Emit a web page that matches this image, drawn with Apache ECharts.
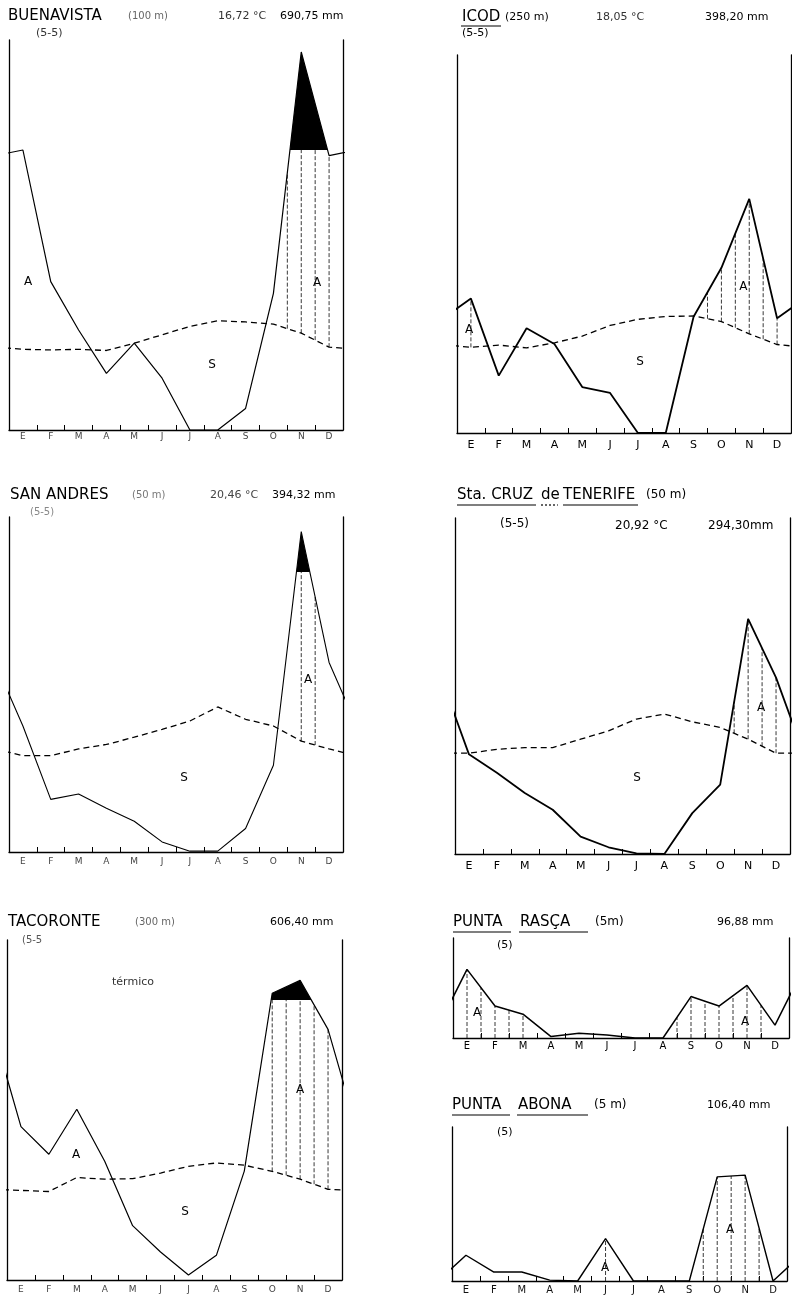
<!DOCTYPE html>
<html><head><meta charset="utf-8">
<script src="https://cdn.jsdelivr.net/npm/echarts@6/dist/echarts.min.js"></script>
<style>html,body{margin:0;padding:0;background:#fff}#c{width:792px;height:1303px}</style>
</head><body><div id="c"></div>
<script>
// ---- data (monthly, E..D) ----
const months = ['E','F','M','A','M','J','J','A','S','O','N','D'];
const buenavistaPrecip = [100, 53, 35.7, 20.2, 31, 18.5, 0, 0, 7.7, 48.8, 275, 98];
const buenavistaTemp   = [14.4, 14.3, 14.4, 14.2, 15.5, 17.0, 18.5, 19.5, 19.3, 18.9, 17.3, 14.8];
const icodPrecip = [48, 20.5, 37.4, 31.8, 16.4, 14.3, 0, 0, 41.5, 59, 83.6, 41];
const icodTemp   = [15.3, 15.7, 15.2, 16.1, 17.3, 19.2, 20.3, 20.8, 20.9, 19.9, 17.7, 15.8];
const sanAndresPrecip = [45, 18.8, 20.7, 15.6, 11, 3.6, 0.3, 0.3, 8.4, 31, 172, 67.7];
const sanAndresTemp   = [17.2, 17.2, 18.4, 19.2, 20.5, 21.9, 23.4, 25.9, 23.7, 22.5, 19.8, 18.4];
const staCruzPrecip = [35.6, 29, 21.8, 15.8, 6.2, 2.4, 0.2, 0, 14.6, 24.8, 84, 63];
const staCruzTemp   = [18.0, 18.7, 19.0, 19.0, 20.5, 22.0, 24.1, 25.0, 23.6, 22.6, 20.5, 18.0];
const tacorontePrecip = [54.8, 44.9, 61, 42.4, 19.4, 10, 1.8, 8.8, 38.9, 112, 135, 89.5];
const tacoronteTemp   = [16.0, 15.8, 18.3, 18.0, 18.1, 19.1, 20.3, 20.9, 20.5, 19.4, 18.0, 16.2];
const puntaRascaPrecip = [24.5, 11.4, 8.5, 0.5, 1.7, 1.1, 0, 0, 14.8, 11.4, 18.8, 4.6];
const puntaAbonaPrecip = [9.2, 3.2, 3.2, 0.3, 0, 15.1, 0, 0, 0, 37.2, 37.8, 0];

// ---- layout / style (kept apart from the data) ----
const FONT = "'DejaVu Sans', 'Liberation Sans', sans-serif";
const PX_PER_MM = 2.8;
const panels = [
  {p: buenavistaPrecip, t: buenavistaTemp, left: 9,   top: 40,   width: 334, height: 390, lm: 2, ls: 9,  lc: '#444', lw: 1.2, hatch: 1,  hw: [[9.9, 11.6]]},
  {p: icodPrecip,       t: icodTemp,       left: 457, top: 55,   width: 334, height: 378, lm: 7, ls: 11, lc: '#000', lw: 1.8, hatch: 1,  hw: [[0.4, 0.6], [8.9, 11.6]]},
  {p: sanAndresPrecip,  t: sanAndresTemp,  left: 9,   top: 517,  width: 334, height: 335, lm: 5, ls: 9,  lc: '#444', lw: 1.1, hatch: 1,  hw: [[10.4, 11.1]]},
  {p: staCruzPrecip,    t: staCruzTemp,    left: 455, top: 518,  width: 335, height: 336, lm: 7, ls: 11, lc: '#000', lw: 1.8, hatch: 1,  hw: [[9.9, 12]]},
  {p: tacorontePrecip,  t: tacoronteTemp,  left: 7,   top: 940,  width: 335, height: 340, lm: 5, ls: 9,  lc: '#444', lw: 1.2, hatch: 1,  hw: [[9.4, 11.6]]},
  {p: puntaRascaPrecip, t: null,           left: 453, top: 938,  width: 336, height: 100, lm: 3, ls: 10, lc: '#000', lw: 1.5, hatch: 5,  hw: [[0, 12]]},
  {p: puntaAbonaPrecip, t: null,           left: 452, top: 1127, width: 335, height: 154, lm: 4, ls: 10, lc: '#111', lw: 1.4, hatch: 10, hw: [[0, 12]]}
];

// Walter-Lieth style precipitation scale: above 100 mm compressed
const pv = v => v <= 100 ? v : 100 + (v - 100) / 5;
const tv = v => v * 2; // 10 °C = 20 mm

function ext(arr, f) {
  const pts = [[-0.5, f(arr[11])]];
  arr.forEach((v, i) => pts.push([i + 0.5, f(v)]));
  pts.push([12.5, f(arr[0])]);
  return pts;
}
function at(pts, x) {
  for (let i = 0; i < pts.length - 1; i++) {
    const a = pts[i], b = pts[i + 1];
    if (x >= a[0] && x <= b[0]) return a[1] + (b[1] - a[1]) * (x - a[0]) / (b[0] - a[0]);
  }
  return 0;
}
function span(pts) {
  const out = [[0, at(pts, 0)]];
  pts.forEach(p => { if (p[0] > 0 && p[0] < 12) out.push(p.slice()); });
  out.push([12, at(pts, 12)]);
  return out;
}

const grid = [], xAxis = [], yAxis = [], series = [];
panels.forEach((P, k) => {
  grid.push({left: P.left, top: P.top, width: P.width, height: P.height, containLabel: false});
  const ymax = P.height / PX_PER_MM;
  xAxis.push({
    type: 'category', gridIndex: k, data: months, boundaryGap: true, position: 'bottom',
    axisLine: {show: true, lineStyle: {color: '#000', width: 1.3}},
    axisTick: {show: true, inside: true, length: 5, lineStyle: {color: '#000', width: 1}},
    axisLabel: {show: true, margin: P.lm, fontSize: P.ls, color: P.lc, fontFamily: FONT, interval: 0},
    splitLine: {show: false}
  });
  xAxis.push({type: 'value', gridIndex: k, min: 0, max: 12, show: false});
  yAxis.push({type: 'value', gridIndex: k, min: 0, max: ymax, position: 'left',
    axisLine: {show: true, onZero: false, lineStyle: {color: '#000', width: 1.3}},
    axisTick: {show: false}, axisLabel: {show: false}, splitLine: {show: false}});
  yAxis.push({type: 'value', gridIndex: k, min: 0, max: ymax, position: 'right',
    axisLine: {show: true, onZero: false, lineStyle: {color: '#000', width: 1.3}},
    axisTick: {show: false}, axisLabel: {show: false}, splitLine: {show: false}});

  const pExt = ext(P.p, pv);
  const tExt = P.t ? ext(P.t, tv) : null;
  const hatchMin = P.hatch, hw = P.hw;

  series.push({
    type: 'custom', xAxisIndex: 2 * k + 1, yAxisIndex: 2 * k, data: [[0, 0]], silent: true, z: 1,
    renderItem: function (params, api) {
      const children = [];
      // black area above 100 mm
      const sp = span(pExt), v = [];
      for (let i = 0; i < sp.length; i++) {
        v.push(sp[i]);
        if (i < sp.length - 1) {
          const a = sp[i], b = sp[i + 1];
          if ((a[1] - 100) * (b[1] - 100) < 0) {
            v.push([a[0] + (100 - a[1]) / (b[1] - a[1]) * (b[0] - a[0]), 100]);
          }
        }
      }
      if (v.some(p => p[1] > 100)) {
        const poly = v.map(p => api.coord([p[0], Math.max(p[1], 100)]));
        poly.push(api.coord([12, 100]));
        poly.push(api.coord([0, 100]));
        children.push({type: 'polygon', shape: {points: poly}, style: {fill: '#000'}});
      }
      // vertical hatching for humid periods
      for (let j = 1; j < 24; j++) {
        const x = j / 2;
        if (!hw.some(w => x >= w[0] && x <= w[1])) continue;
        const pp = Math.min(at(pExt, x), 100);
        const tt = tExt ? at(tExt, x) : 0;
        if (pp - tt > hatchMin) {
          const a = api.coord([x, tt]), b = api.coord([x, pp]);
          children.push({type: 'line', shape: {x1: a[0], y1: a[1], x2: b[0], y2: b[1]},
            style: {stroke: '#222', lineWidth: 0.9, lineDash: [4, 2]}});
        }
      }
      return {type: 'group', children: children};
    }
  });
  series.push({
    type: 'line', xAxisIndex: 2 * k + 1, yAxisIndex: 2 * k, data: pExt, clip: true, z: 3,
    showSymbol: false, silent: true, animation: false,
    lineStyle: {color: '#000', width: P.lw}
  });
  if (tExt) {
    series.push({
      type: 'line', xAxisIndex: 2 * k + 1, yAxisIndex: 2 * k, data: tExt, clip: true, z: 3,
      showSymbol: false, silent: true, animation: false,
      lineStyle: {color: '#000', width: 1.3, type: [6, 4]}
    });
  }
});

// ---- texts ----
const els = [];
function txt(x, y, s, size, opt) {
  opt = opt || {};
  els.push({type: 'text', x: x, y: y, silent: true, style: {
    text: s, font: (opt.bold ? 'bold ' : '') + size + 'px ' + FONT, fill: opt.color || '#000',
    textVerticalAlign: 'middle', verticalAlign: 'middle', textAlign: opt.align || 'left', align: opt.align || 'left'}});
}
function uline(x1, x2, y, dash) {
  els.push({type: 'line', silent: true, shape: {x1: x1, y1: y, x2: x2, y2: y},
    style: {stroke: '#000', lineWidth: 1.2, lineDash: dash ? [2, 2] : null}});
}
// Buenavista
txt(8, 16, 'BUENAVISTA', 15);
txt(128, 16, '(100 m)', 10, {color: '#666'});
txt(218, 16, '16,72 °C', 11, {color: '#333'});
txt(280, 16, '690,75 mm', 11);
txt(36, 33, '(5-5)', 11, {color: '#333'});
// Icod
txt(462, 17, 'ICOD', 15); uline(461, 501, 26);
txt(505, 17, '(250 m)', 11);
txt(596, 17, '18,05 °C', 11, {color: '#333'});
txt(705, 17, '398,20 mm', 11);
txt(462, 33, '(5-5)', 11);
// San Andres
txt(10, 495, 'SAN ANDRES', 15);
txt(132, 495, '(50 m)', 10, {color: '#777'});
txt(210, 495, '20,46 °C', 11, {color: '#444'});
txt(272, 495, '394,32 mm', 11);
txt(30, 512, '(5-5)', 10, {color: '#888'});
// Sta Cruz
txt(457, 495, 'Sta. CRUZ', 15); uline(457, 536, 505);
txt(541, 495, 'de', 15); uline(541, 558, 505, true);
txt(563, 495, 'TENERIFE', 15); uline(563, 638, 505);
txt(646, 495, '(50 m)', 12);
txt(500, 524, '(5-5)', 12);
txt(615, 526, '20,92 °C', 12);
txt(708, 526, '294,30mm', 12);
// Tacoronte
txt(8, 922, 'TACORONTE', 15);
txt(135, 922, '(300 m)', 10, {color: '#666'});
txt(270, 922, '606,40 mm', 11);
txt(22, 940, '(5-5', 10, {color: '#555'});
txt(112, 982, 'térmico', 11, {color: '#333'});
// Punta Rasca
txt(453, 922, 'PUNTA', 15); uline(453, 511, 932);
txt(520, 922, 'RASÇA', 15); uline(519, 588, 932);
txt(595, 922, '(5m)', 12);
txt(717, 922, '96,88 mm', 11);
txt(497, 945, '(5)', 11);
// Punta Abona
txt(452, 1105, 'PUNTA', 15); uline(452, 510, 1115);
txt(518, 1105, 'ABONA', 15); uline(517, 588, 1115);
txt(594, 1105, '(5 m)', 12);
txt(707, 1105, '106,40 mm', 11);
txt(497, 1132, '(5)', 11);
// A / S labels
[[28, 282, 'A'], [317, 283, 'A'], [212, 365, 'S'],
 [469, 330, 'A'], [745, 287, "A'"], [640, 362, 'S'],
 [308, 680, 'A'], [184, 778, 'S'],
 [761, 708, 'A'], [637, 778, 'S'],
 [76, 1155, 'A'], [185, 1212, 'S'], [300, 1090, 'A'],
 [477, 1013, 'A'], [745, 1022, 'A'],
 [605, 1268, 'A'], [730, 1230, 'A']].forEach(d => txt(d[0], d[1], d[2], 12, {align: 'center'}));

const chart = echarts.init(document.getElementById('c'), null, {renderer: 'canvas'});
chart.setOption({
  backgroundColor: '#fff', animation: false,
  grid: grid, xAxis: xAxis, yAxis: yAxis, series: series,
  graphic: {elements: els}
});
</script></body></html>
